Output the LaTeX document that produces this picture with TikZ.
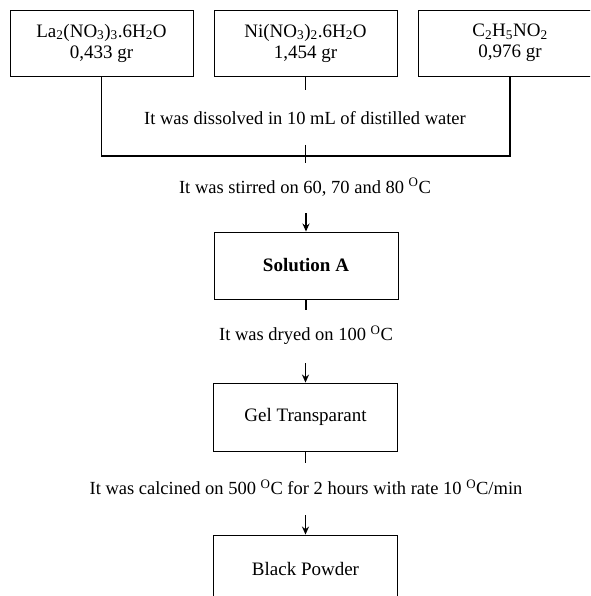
\documentclass[tikz,border=0pt]{standalone}
\usepackage{fontspec}
\setmainfont{Liberation Serif}
\usetikzlibrary{arrows.meta}
\newcommand{\degO}{\textsuperscript{O}C}
\begin{document}
\begin{tikzpicture}[x=1pt,y=-1pt,
  box/.style={draw,line width=0.9pt,minimum width=183pt,minimum height=66pt,inner sep=0pt,align=center,font=\fontsize{19}{21}\selectfont},
  lbl/.style={inner sep=0pt,font=\fontsize{18.5}{21}\selectfont},
  conn/.style={line width=1.8pt},
  arr/.style={line width=1.6pt,-{Stealth[length=8pt,width=7pt]}}]
\useasboundingbox (0,0) rectangle (590,596);
\clip (0,0) rectangle (590,596);
\node[box] (b1) at (101.5,43) {La\textsubscript{2}(NO\textsubscript{3})\textsubscript{3}.6H\textsubscript{2}O\\0,433 gr};
\node[box] (b2) at (305.5,43) {Ni(NO\textsubscript{3})\textsubscript{2}.6H\textsubscript{2}O\\1,454 gr};
\node[box,minimum width=184pt] (b3) at (510,43) {C\textsubscript{2}H\textsubscript{5}NO\textsubscript{2}\\0,976 gr};
\node[lbl] (t1) at (305,118) {It was dissolved in 10 mL of distilled water};
\node[lbl] (t2) at (305,187) {It was stirred on 60, 70 and 80 \degO};
\node[box,minimum width=184pt,minimum height=67pt,font=\bfseries\fontsize{19}{21}\selectfont] (sa) at (306,265.5) {Solution A};
\node[lbl] (t3) at (306,335) {It was dryed on 100 \degO};
\node[box,minimum width=184pt,minimum height=68pt] (gel) at (305.5,417) {Gel Transparant};
\node[lbl] (t4) at (306,487) {It was calcined on 500 \degO{} for 2 hours with rate 10 \degO/min};
\node[box,minimum width=184pt,minimum height=68pt] (bp) at (305.5,569) {Black Powder};
% junction
\coordinate (c1) at (101.5,156);
\coordinate (c3) at (510,156);
\coordinate (b2e) at (305.5,90);
\coordinate (ja) at (305.5,145);
\coordinate (jb) at (305.5,163);
\draw[conn] (b1.south) -- (c1) -- (c3) -- (b3.south);
\draw[conn] (b2.south) -- (b2e);
\draw[conn] (ja) -- (jb);
\coordinate (a1) at (306,213);
\draw[arr] (a1) -- (sa.north);
\coordinate (s1) at (306,310);
\draw[conn] (sa.south) -- (s1);
\coordinate (a2) at (305.5,363);
\draw[arr] (a2) -- (gel.north);
\coordinate (s2) at (305.5,463);
\draw[conn] (gel.south) -- (s2);
\coordinate (a3) at (305.5,515);
\draw[arr] (a3) -- (bp.north);
\end{tikzpicture}
\end{document}
